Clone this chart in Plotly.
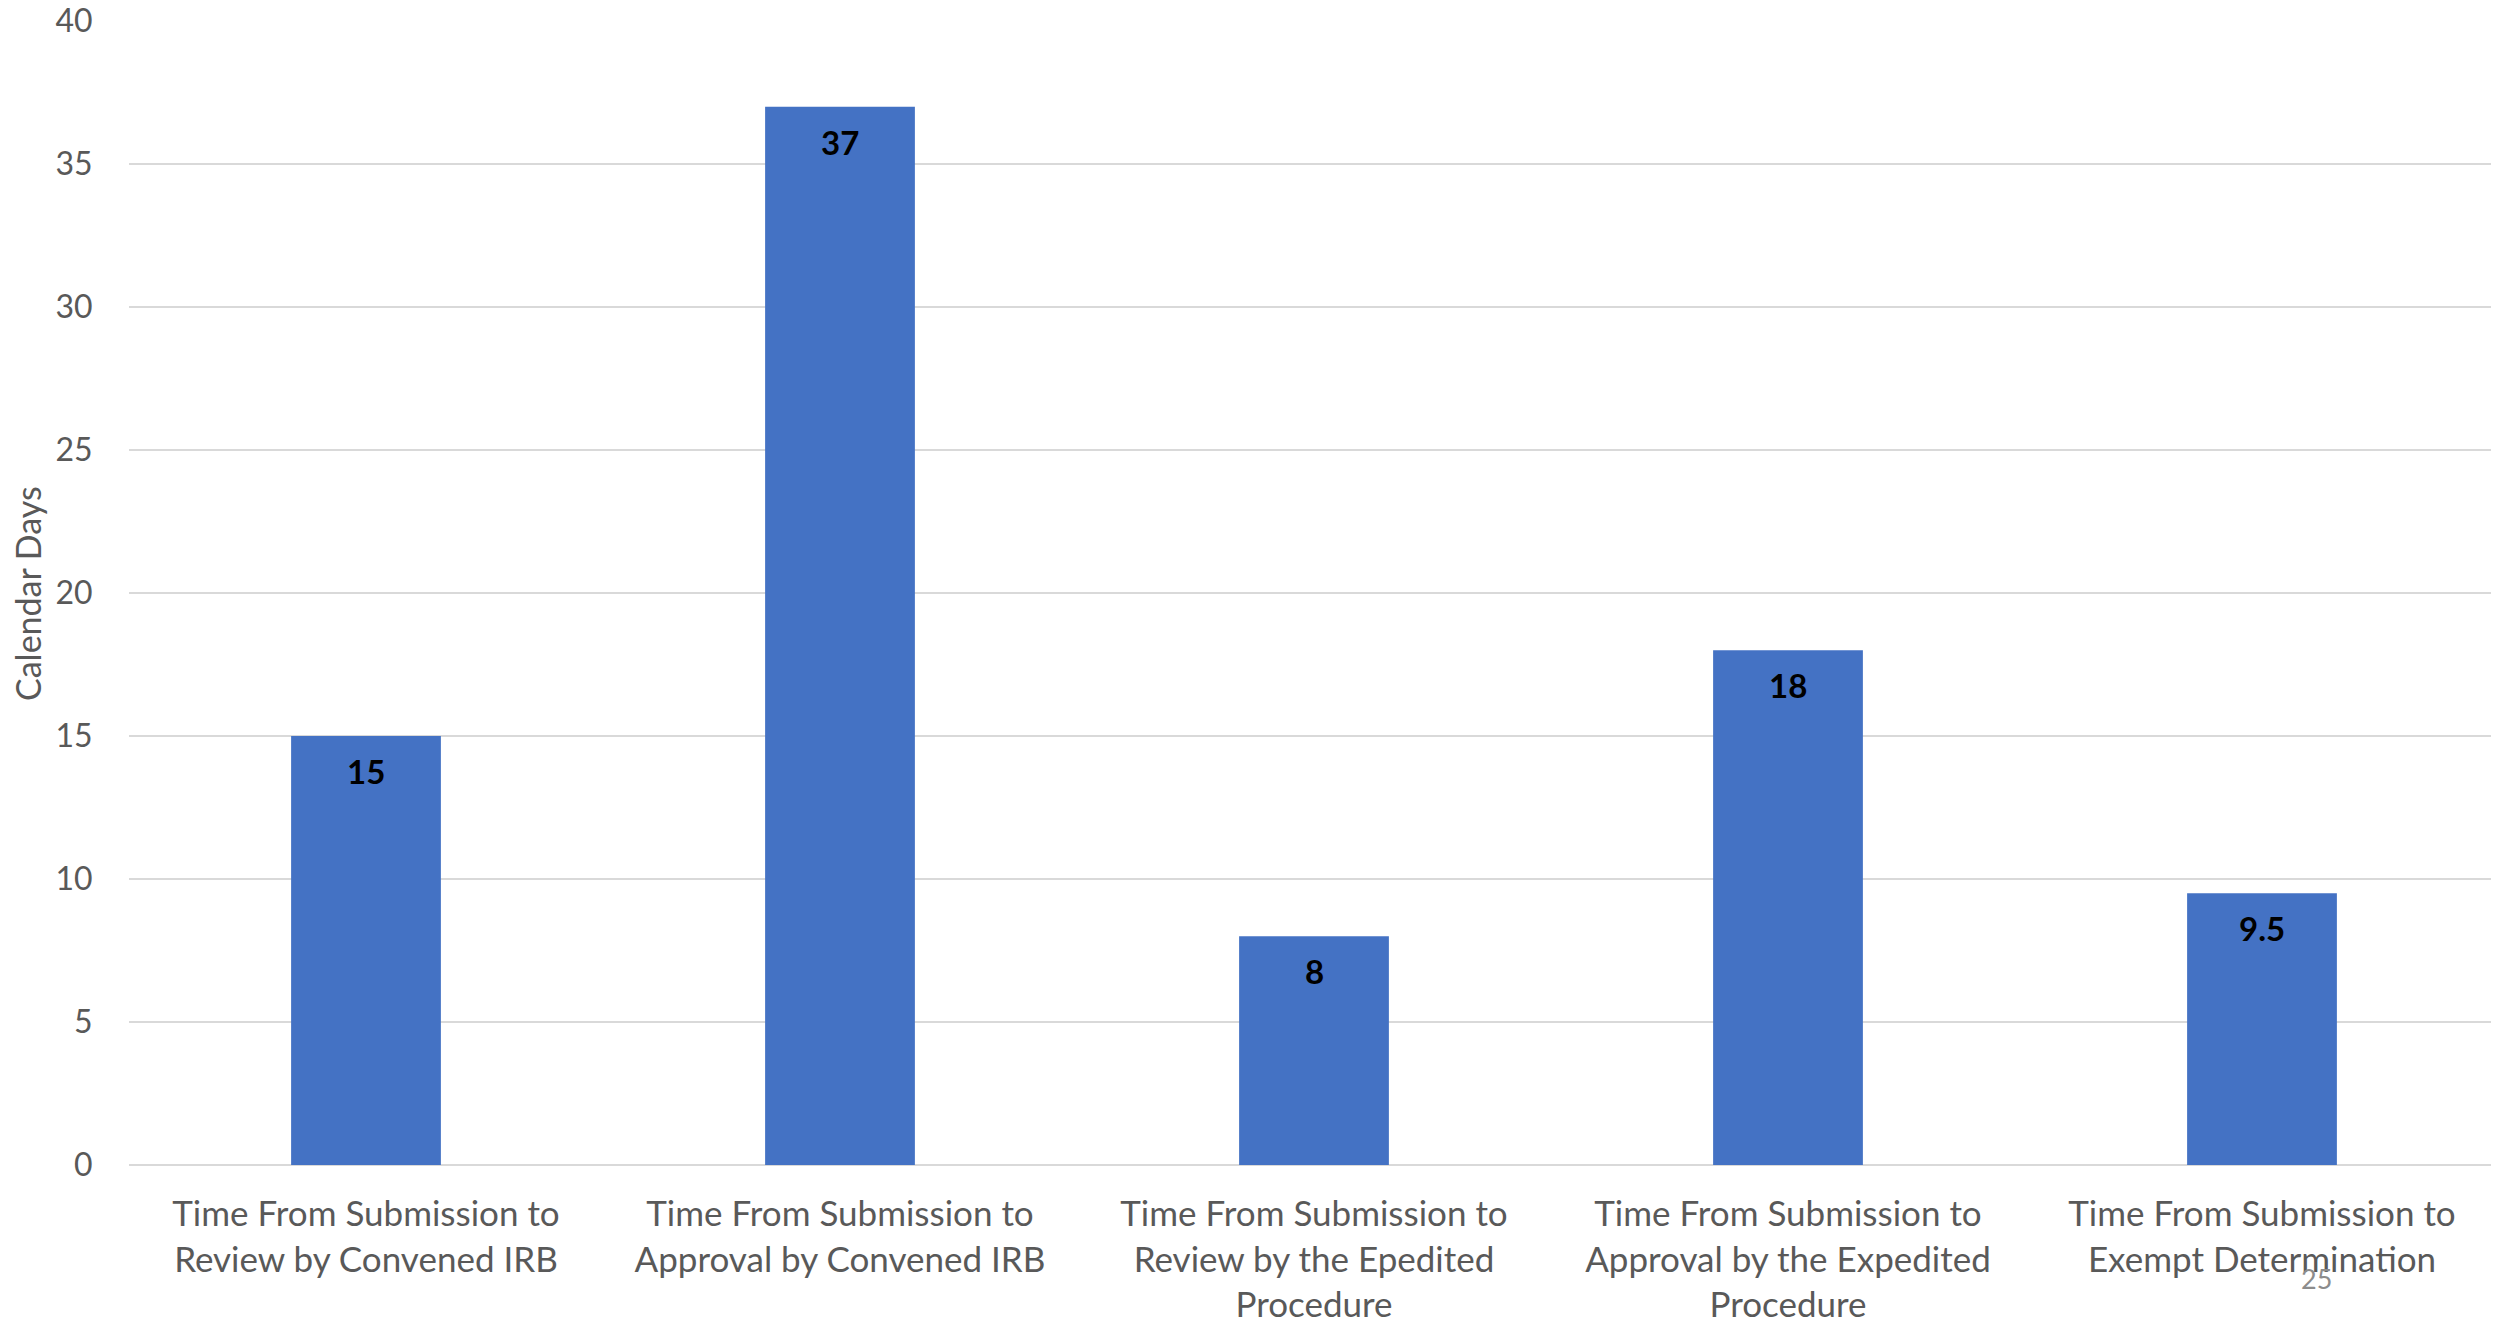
import plotly.graph_objects as go

categories = [
    "Time From Submission to<br>Review by Convened IRB",
    "Time From Submission to<br>Approval by Convened IRB",
    "Time From Submission to<br>Review by the Epedited<br>Procedure",
    "Time From Submission to<br>Approval by the Expedited<br>Procedure",
    "Time From Submission to<br>Exempt Determination",
]
values = [15, 37, 8, 18, 9.5]
value_labels = ["15", "37", "8", "18", "9.5"]
y_ticks = [0, 5, 10, 15, 20, 25, 30, 35, 40]

FONT = "Lato, 'Open Sans', sans-serif"
W, H = 2499, 1321
OFF = 8  # page body offset
L, R, T, B = 129 - OFF, OFF, 21 - OFF, 1321 - (1165 - OFF)

fig = go.Figure()
fig.add_trace(go.Bar(
    x=categories, y=values,
    marker=dict(color="#4472C4", line=dict(width=0)),
    hoverinfo="skip",
))
for c, v, t in zip(categories, values, value_labels):
    fig.add_annotation(x=c, y=v, text=f"<b>{t}</b>", showarrow=False,
                       yanchor="middle", yshift=-35,
                       font=dict(family=FONT, size=33, color="#000000"))

pw = W - L - R
ph = H - T - B
fig.add_annotation(xref="paper", yref="paper", x=(27 - 129) / pw, y=(1165 - 594) / ph,
                   text="Calendar Days", textangle=-90, showarrow=False,
                   xanchor="center", yanchor="middle",
                   font=dict(family=FONT, size=34, color="#595959"))
fig.add_annotation(xref="paper", yref="paper", x=(2316 - 129) / pw, y=-(1278 - 1165) / ph,
                   text="25", showarrow=False, xanchor="center", yanchor="middle",
                   font=dict(family=FONT, size=27, color="#8C8C8C"))

fig.update_layout(
    width=W, height=H,
    margin=dict(l=L, r=R, t=T, b=B, pad=0, autoexpand=False),
    paper_bgcolor="white", plot_bgcolor="white",
    bargap=0.684,
    showlegend=False,
    font=dict(family=FONT, color="#595959"),
)
fig.update_xaxes(
    showgrid=False, zeroline=False, showline=False, automargin=False,
    tickfont=dict(family=FONT, size=35, color="#595959"),
    ticks="outside", ticklen=18, tickcolor="rgba(0,0,0,0)",
)
fig.update_yaxes(
    range=[0, 40], tickvals=y_ticks, ticktext=[str(v) for v in y_ticks],
    showgrid=True, gridcolor="#D9D9D9", gridwidth=2,
    zeroline=True, zerolinecolor="#D9D9D9", zerolinewidth=2,
    showline=False, ticklabeloverflow="allow", automargin=False,
    tickfont=dict(family=FONT, size=32, color="#595959"),
    ticks="outside", ticklen=29, tickcolor="rgba(0,0,0,0)",
)
fig.write_html("out.html")
